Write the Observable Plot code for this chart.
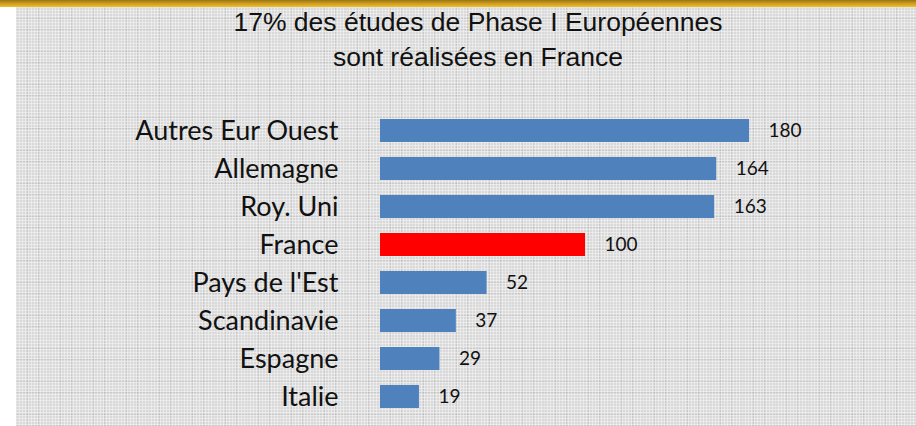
<!DOCTYPE html>
<html>
<head>
<meta charset="utf-8">
<script src="https://cdn.jsdelivr.net/npm/d3@7"></script>
<script src="https://cdn.jsdelivr.net/npm/@observablehq/plot@0.6"></script>
<style>
  html, body { margin: 0; padding: 0; background: #fff; }
  #wrap { position: relative; width: 916px; height: 426px; overflow: hidden; background: #fff; }
  #gold { position: absolute; left: 0; top: 0; width: 916px; height: 7px;
    background: linear-gradient(to bottom, #9a7414 0%, #c8991c 45%, #f0c030 100%); }
  #panel { position: absolute; left: 16px; top: 7px; width: 900px; height: 419px;
    background-color: #d9d9d9;
    background-image:
      repeating-linear-gradient(to right, rgba(245,245,245,0.55) 0 1px, transparent 1px 3px),
      repeating-linear-gradient(to bottom, rgba(245,245,245,0.55) 0 1px, transparent 1px 3px),
      repeating-linear-gradient(to right, rgba(170,170,170,0.35) 0 1px, transparent 1px 11px),
      repeating-linear-gradient(to bottom, rgba(170,170,170,0.35) 0 1px, transparent 1px 11px); }
  #title { position: absolute; left: 0; width: 956px; top: 5px; text-align: center;
    font-family: "Liberation Sans", Arial, sans-serif; font-size: 26.5px; line-height: 35px; color: #111; }
  #chart { position: absolute; left: 0; top: 0; }
</style>
</head>
<body>
<div id="wrap">
  <div id="gold"></div>
  <div id="panel"></div>
  <div id="title">17% des études de Phase I Européennes<br>sont réalisées en France</div>
  <div id="chart"></div>
</div>
<script>
const categories = ["Autres Eur Ouest", "Allemagne", "Roy. Uni", "France", "Pays de l'Est", "Scandinavie", "Espagne", "Italie"];
const values = [180, 164, 163, 100, 52, 37, 29, 19];
const highlight = "France";

const data = categories.map((c, i) => ({category: c, value: values[i], hi: c === highlight}));

const chart = Plot.plot({
  width: 916,
  height: 426,
  marginLeft: 380,
  marginRight: 167,
  marginTop: 111,
  marginBottom: 10,
  style: {background: "transparent", fontFamily: "Lato, 'Open Sans', sans-serif", overflow: "visible"},
  x: {domain: [0, 180], axis: null},
  y: {domain: categories, paddingInner: 0.4, paddingOuter: 0.2, label: null},
  marks: [
    Plot.barX(data, {x: "value", y: "category", fill: d => d.hi ? "#ff0000" : "#4f81bd"}),
    Plot.text(data, {x: "value", y: "category", text: d => String(d.value), textAnchor: "start", dx: 19,
      fontSize: 19, fill: "#111"}),
    Plot.axisY({tickSize: 0, tickPadding: 42, fontSize: 27, label: null, fill: "#111"})
  ]
});
document.getElementById("chart").appendChild(chart);
</script>
</body>
</html>
